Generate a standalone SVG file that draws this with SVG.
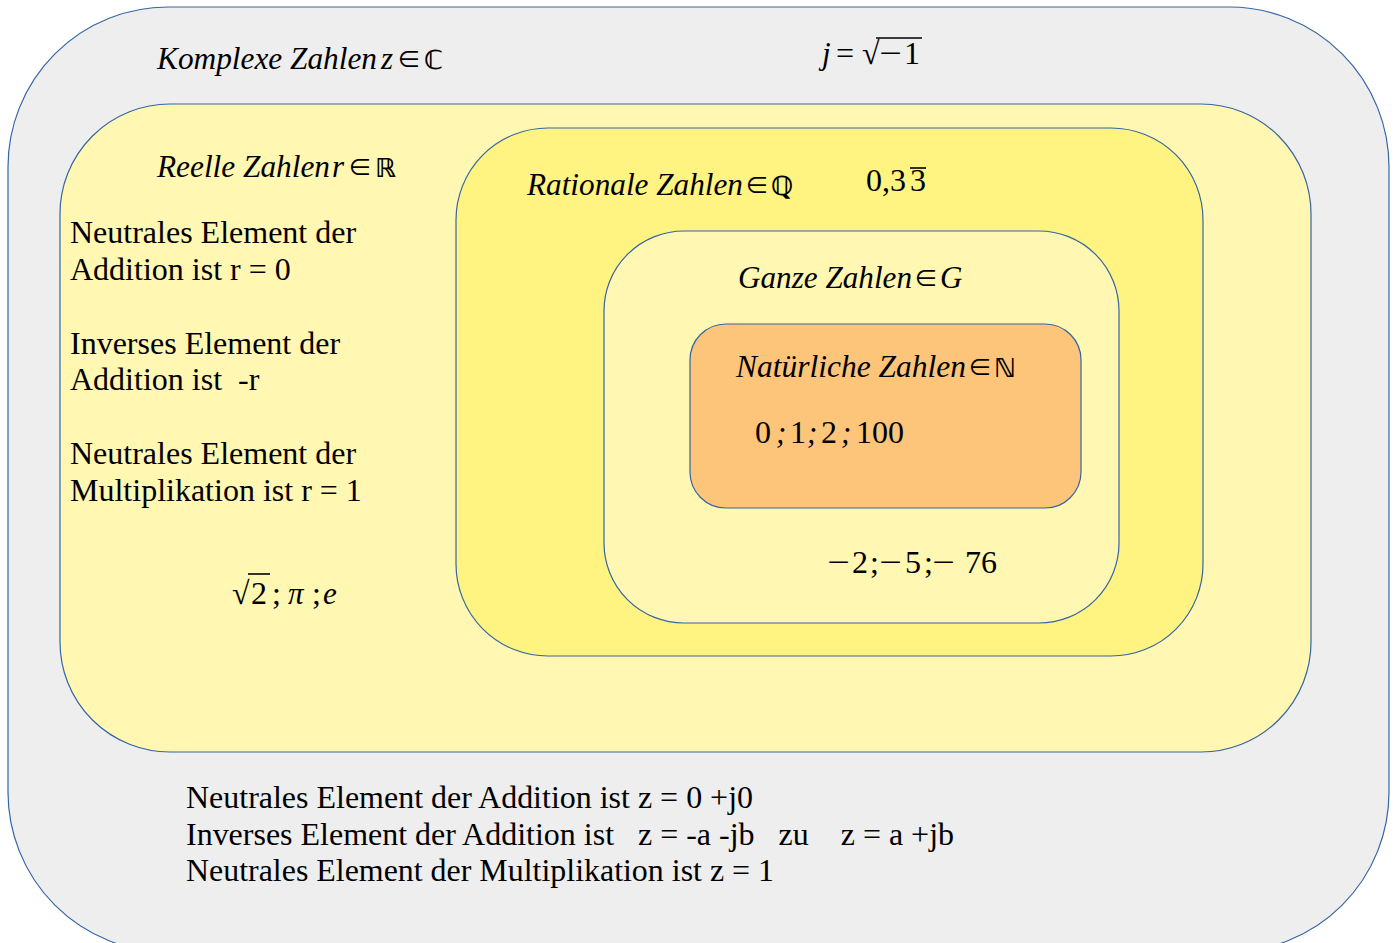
<svg xmlns="http://www.w3.org/2000/svg" width="1397" height="943" viewBox="0 0 1397 943">
<style>
.b{stroke:#3465a4;stroke-width:1.2}
.t{font-family:"Liberation Serif",serif;font-size:32px;fill:#000}
.i{font-family:"Liberation Serif",serif;font-size:31px;font-style:italic;fill:#000}
.m{font-family:"Liberation Serif",serif;font-size:32px;fill:#000}
.e{font-family:"Noto Sans CJK SC","DejaVu Sans",sans-serif;font-size:24px;fill:#000}
.ds{font-family:"DejaVu Sans",sans-serif;font-size:26px;font-weight:bold;fill:#000}
.ov{stroke:#000;stroke-width:1.6}
</style>
<rect width="1397" height="943" fill="#ffffff"/>
<g id="komplex">
<rect class="b" x="8" y="7" width="1381" height="945" rx="160" ry="160" fill="#eeeeee"/>
<text class="i" x="157" y="69" textLength="220" lengthAdjust="spacingAndGlyphs">Komplexe Zahlen</text>
<text class="i" x="381" y="69">z</text>
<text class="e" x="397" y="68">∈</text>
<text class="ds" x="424" y="69">ℂ</text>
<text class="i" x="822" y="64">j</text>
<text class="m" x="836" y="64">=</text>
<text class="m" x="862" y="64" font-size="30">√</text>
<text class="m" transform="translate(879 64) scale(1.25 1)">−</text>
<text class="m" x="904" y="64">1</text>
<line class="ov" x1="876" y1="38" x2="922" y2="38"/>
<text class="t" x="186" y="808" textLength="567" lengthAdjust="spacingAndGlyphs">Neutrales Element der Addition ist z = 0 +j0</text>
<text class="t" x="186" y="845" xml:space="preserve" textLength="768" lengthAdjust="spacingAndGlyphs">Inverses Element der Addition ist   z = -a -jb   zu    z = a +jb</text>
<text class="t" x="186" y="881" textLength="588" lengthAdjust="spacingAndGlyphs">Neutrales Element der Multiplikation ist z = 1</text>
</g>
<g id="reell">
<rect class="b" x="60" y="104" width="1251" height="648" rx="110" ry="110" fill="#fff7b2"/>
<text class="i" x="157" y="177" textLength="173" lengthAdjust="spacingAndGlyphs">Reelle Zahlen</text>
<text class="i" x="332" y="177">r</text>
<text class="e" x="348" y="176">∈</text>
<text class="ds" x="375" y="177">ℝ</text>
<text class="t" x="70" y="243">Neutrales Element der</text>
<text class="t" x="70" y="280">Addition ist r = 0</text>
<text class="t" x="70" y="354">Inverses Element der</text>
<text class="t" x="70" y="390" xml:space="preserve">Addition ist  -r</text>
<text class="t" x="70" y="464">Neutrales Element der</text>
<text class="t" x="70" y="501">Multiplikation ist r = 1</text>
<text class="m" x="232" y="604" font-size="30">√</text>
<text class="m" x="251" y="604">2</text>
<line class="ov" x1="248" y1="574" x2="270" y2="574"/>
<text class="m" x="272" y="604">;</text>
<text class="i" x="288" y="604">π</text>
<text class="m" x="312" y="604">;</text>
<text class="i" x="323" y="604">e</text>
</g>
<g id="rational">
<rect class="b" x="456" y="128" width="747" height="528" rx="92" ry="92" fill="#fff381"/>
<text class="i" x="527" y="195" textLength="216" lengthAdjust="spacingAndGlyphs">Rationale Zahlen</text>
<text class="e" x="745" y="194">∈</text>
<text class="ds" x="771" y="195">ℚ</text>
<text class="m" x="866" y="191">0,3</text>
<text class="m" x="910" y="191">3</text>
<line class="ov" x1="910" y1="168" x2="926" y2="168"/>
</g>
<g id="ganze">
<rect class="b" x="604" y="231" width="515" height="392" rx="80" ry="80" fill="#fff7b2"/>
<text class="i" x="738" y="288" textLength="174" lengthAdjust="spacingAndGlyphs">Ganze Zahlen</text>
<text class="e" x="914" y="287">∈</text>
<text class="i" x="940" y="288">G</text>
<text class="m" transform="translate(827 573) scale(1.25 1)">−</text>
<text class="m" x="852" y="573">2</text>
<text class="m" x="870" y="573">;</text>
<text class="m" transform="translate(879 573) scale(1.25 1)">−</text>
<text class="m" x="905" y="573">5</text>
<text class="m" x="924" y="573">;</text>
<text class="m" transform="translate(932 573) scale(1.25 1)">−</text>
<text class="m" x="965" y="573">76</text>
</g>
<g id="natuerlich">
<rect class="b" x="690" y="324" width="391" height="184" rx="36" ry="36" fill="#fdc57a"/>
<text class="i" x="736" y="377" textLength="230" lengthAdjust="spacingAndGlyphs">Natürliche Zahlen</text>
<text class="e" x="968" y="376">∈</text>
<text class="ds" x="994" y="377">ℕ</text>
<text class="m" x="755" y="443">0</text>
<text class="i" x="776" y="443">;</text>
<text class="m" x="790" y="443">1</text>
<text class="i" x="807" y="443">;</text>
<text class="m" x="821" y="443">2</text>
<text class="i" x="841" y="443">;</text>
<text class="m" x="856" y="443">100</text>
</g>
<g id="connectors"/>
</svg>
